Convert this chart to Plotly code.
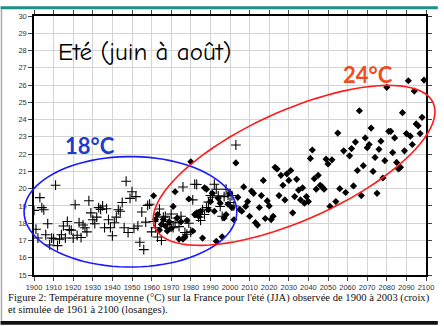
import math
import plotly.graph_objects as go

# Observed summer (JJA) mean temperature over France, 1900-2003 (crosses)
obs_years = list(range(1900, 2004))
obs_temps = [
    18.74, 17.65, 17.14, 19.48, 18.90, 18.78, 17.33, 17.97, 16.74, 17.14,
    17.10, 20.20, 16.70, 17.08, 17.33, 17.84, 17.14, 18.10, 17.63, 17.60,
    17.14, 19.07, 17.30, 18.03, 17.17, 17.90, 17.74, 17.50, 19.30, 18.60,
    18.20, 17.97, 18.35, 18.90, 18.80, 19.00, 17.74, 18.84, 18.20, 17.74,
    17.27, 18.03, 18.35, 18.78, 18.69, 19.20, 17.74, 20.43, 17.46, 19.44,
    19.82, 17.70, 19.54, 17.84, 16.90, 18.65, 16.47, 18.06, 19.03, 19.10,
    17.50, 18.10, 17.74, 17.20, 18.82, 17.00, 18.35, 18.40, 17.93, 18.10,
    18.53, 17.74, 18.03, 18.30, 17.80, 18.40, 20.10, 17.46, 17.36, 18.00,
    17.50, 19.35, 20.26, 20.24, 18.35, 18.16, 18.78, 18.50, 18.90, 19.22,
    19.60, 19.50, 20.26, 19.97, 19.58, 18.97, 18.40, 19.54, 19.97, 19.63,
    19.20, 19.60, 19.00, 22.53,
]

# Simulated summer temperature, 1961-2100 (diamonds)
sim_years = [
    1961, 1962, 1963, 1964, 1965, 1966, 1967, 1968, 1969, 1970,
    1971, 1972, 1973, 1974, 1975, 1976, 1977, 1978, 1979, 1980,
    1981, 1982, 1983, 1984, 1985, 1986, 1987, 1988, 1989, 1990,
    1991, 1992, 1993, 1994, 1995, 1996, 1997, 1998, 1999, 2000,
    2001, 2002, 2003, 2004, 2005, 2006, 2007, 2008, 2009, 2010,
    2011, 2012, 2013, 2014, 2015, 2016, 2017, 2018, 2019, 2020,
    2021, 2022, 2023, 2024, 2025, 2026, 2027, 2028, 2029, 2030,
    2031, 2032, 2033, 2034, 2035, 2036, 2037, 2038, 2039, 2040,
    2041, 2042, 2043, 2044, 2045, 2046, 2047, 2048, 2049, 2050,
    2051, 2052, 2054, 2055, 2056, 2058, 2059, 2061, 2062, 2063,
    2064, 2065, 2066, 2067, 2068, 2069, 2070, 2071, 2072, 2073,
    2074, 2075, 2076, 2077, 2078, 2079, 2080, 2081, 2082, 2083,
    2084, 2085, 2086, 2087, 2088, 2089, 2090, 2091, 2092, 2093,
    2094, 2095, 2096, 2097, 2098, 2099,
]
sim_temps = [
    19.59, 18.21, 18.50, 17.60, 17.93, 18.21, 17.84, 17.55, 18.08, 17.70,
    18.97, 19.82, 18.30, 17.08, 18.08, 17.08, 17.21, 18.16, 19.40, 21.56,
    17.55, 18.50, 18.60, 18.40, 18.69, 17.14, 20.05, 19.97, 18.78, 19.25,
    19.73, 18.69, 16.95, 19.44, 19.16, 17.21, 18.30, 18.50, 19.10, 19.73,
    18.90, 18.20, 21.49, 19.50, 18.80, 18.69, 20.10, 18.97, 19.25, 18.40,
    19.86, 19.73, 18.03, 17.89, 18.91, 19.60, 20.48, 18.27, 19.29, 19.00,
    18.21, 18.40, 21.24, 21.14, 19.60, 20.77, 20.20, 19.35, 20.86, 20.48,
    21.05, 18.60, 19.54, 20.54, 19.92, 19.35, 20.05, 19.16, 19.54, 19.25,
    21.75, 22.24, 20.58, 19.97, 20.77, 20.20, 20.10, 19.97, 21.71, 21.43,
    18.97, 21.67, 19.25, 23.22, 20.00, 22.19, 19.78, 21.90, 22.32, 20.16,
    22.70, 21.05, 24.51, 19.60, 21.33, 22.94, 22.37, 22.56, 23.51, 21.00,
    21.81, 19.73, 22.28, 22.75, 20.62, 21.62, 25.87, 23.32, 23.32, 22.09,
    22.94, 21.52, 21.14, 21.24, 24.40, 22.19, 23.19, 26.25, 23.04, 22.56,
    25.65, 23.75, 23.64, 23.19, 24.13, 26.29,
]

x_ticks = list(range(1900, 2101, 10))
y_ticks = list(range(15, 31))

W, H = 444, 326
ML, MR, MT, MB = 34, 12, 10, 51
PW, PH = W - ML - MR, H - MT - MB
X0, X1 = 1900, 2100
Y0, Y1 = 15, 30


def px_x(year):
    return ML + (year - X0) / (X1 - X0) * PW


def px_y(t):
    return MT + (Y1 - t) / (Y1 - Y0) * PH


def paper(px, py):
    return (px - ML) / PW, (H - MB - py) / PH


def ellipse_path(cx, cy, a, b, angle_deg, n=90):
    # ellipse built in pixel space, then expressed in paper units
    th = math.radians(angle_deg)
    pts = []
    for i in range(n):
        t = 2 * math.pi * i / n
        ex, ey = a * math.cos(t), b * math.sin(t)
        px = cx + ex * math.cos(th) - ey * math.sin(th)
        py = cy - (ex * math.sin(th) + ey * math.cos(th))
        pts.append(paper(px, py))
    return "M " + " L ".join(f"{x:.5f},{y:.5f}" for x, y in pts) + " Z"


fig = go.Figure()
fig.add_trace(go.Scatter(
    x=obs_years, y=obs_temps, mode="markers", name="observé",
    marker=dict(symbol="cross-thin", size=7, line=dict(width=1.1, color="black"), color="black"),
))
fig.add_trace(go.Scatter(
    x=sim_years, y=sim_temps, mode="markers", name="simulé",
    marker=dict(symbol="diamond", size=5.5, color="black"),
))

axis_common = dict(
    showgrid=True, gridcolor="#d4d4d4", gridwidth=1,
    showline=True, linecolor="black", linewidth=1.5, mirror="ticks",
    ticks="outside", ticklen=4, tickcolor="#444", tickwidth=1,
    tickfont=dict(family="Liberation Sans, Arial", size=7.5, color="#333"),
    zeroline=False, fixedrange=True,
)

fig.update_xaxes(range=[X0, X1], tickvals=x_ticks, ticktext=[str(v) for v in x_ticks], **axis_common)
fig.update_yaxes(range=[Y0, Y1], tickvals=y_ticks, ticktext=[str(v) for v in y_ticks], **axis_common)

# highlight ellipses around the observed period and the late-century projections
blue_c = (px_x(1949.2), px_y(18.66))
red_c = (px_x(2032.7), px_y(21.35))
shapes = [
    dict(type="path", xref="paper", yref="paper",
         path=ellipse_path(blue_c[0], blue_c[1], 108, 56.5, 0),
         line=dict(color="#1a1aff", width=1.6)),
    dict(type="path", xref="paper", yref="paper",
         path=ellipse_path(red_c[0], red_c[1], 155, 56, 24.4),
         line=dict(color="#ff1a1a", width=1.6)),
]

# page frame
shapes += [
    dict(type="rect", xref="paper", yref="paper",
         x0=paper(0, 0)[0], x1=paper(W, 0)[0], y0=paper(0, 3)[1], y1=paper(0, 0)[1],
         fillcolor="#1f8f86", line=dict(width=0), layer="above"),
    dict(type="rect", xref="paper", yref="paper",
         x0=paper(0, 0)[0], x1=paper(W, 0)[0], y0=paper(0, H)[1], y1=paper(0, H - 4)[1],
         fillcolor="#111", line=dict(width=0), layer="above"),
    dict(type="line", xref="paper", yref="paper",
         x0=paper(1, 0)[0], x1=paper(1, 0)[0], y0=paper(0, 3)[1], y1=paper(0, H - 4)[1],
         line=dict(color="#aaa", width=1.5)),
]
fig.update_layout(shapes=shapes)

annotations = []
tx, ty = paper(56, 46)
annotations.append(dict(
    text="Eté (juin à août)", xref="paper", yref="paper", x=tx, y=ty,
    xanchor="left", yanchor="middle", showarrow=False,
    font=dict(family="Comic Sans MS, Comic Neue, Lato", size=25, color="black"),
))
tx, ty = paper(91, 143)
annotations.append(dict(
    text="<b>18°C</b>", xref="paper", yref="paper", x=tx, y=ty,
    xanchor="center", yanchor="middle", showarrow=False,
    font=dict(family="Comic Sans MS, Lato", size=22, color="#1e3cc8"),
))
tx, ty = paper(373, 70)
annotations.append(dict(
    text="<b>24°C</b>", xref="paper", yref="paper", x=tx, y=ty,
    xanchor="center", yanchor="middle", showarrow=False,
    font=dict(family="Comic Sans MS, Lato", size=22, color="#f04a1e"),
))
caption_font = dict(family="Liberation Serif, Times New Roman", size=10.6, color="#111")
tx, ty = paper(6, 299)
annotations.append(dict(
    text="Figure 2: Température moyenne (°C) sur la France pour l'été (JJA) observée de 1900 à 2003 (croix)",
    xref="paper", yref="paper", x=tx, y=ty, xanchor="left", yanchor="middle",
    showarrow=False, font=caption_font,
))
tx, ty = paper(6, 311)
annotations.append(dict(
    text="et simulée de 1961 à 2100 (losanges).",
    xref="paper", yref="paper", x=tx, y=ty, xanchor="left", yanchor="middle",
    showarrow=False, font=caption_font,
))

fig.update_layout(
    width=W, height=H,
    margin=dict(l=ML, r=MR, t=MT, b=MB),
    paper_bgcolor="white", plot_bgcolor="white",
    showlegend=False,
    annotations=annotations,
)

fig.write_html("out.html", config={"displayModeBar": False})
